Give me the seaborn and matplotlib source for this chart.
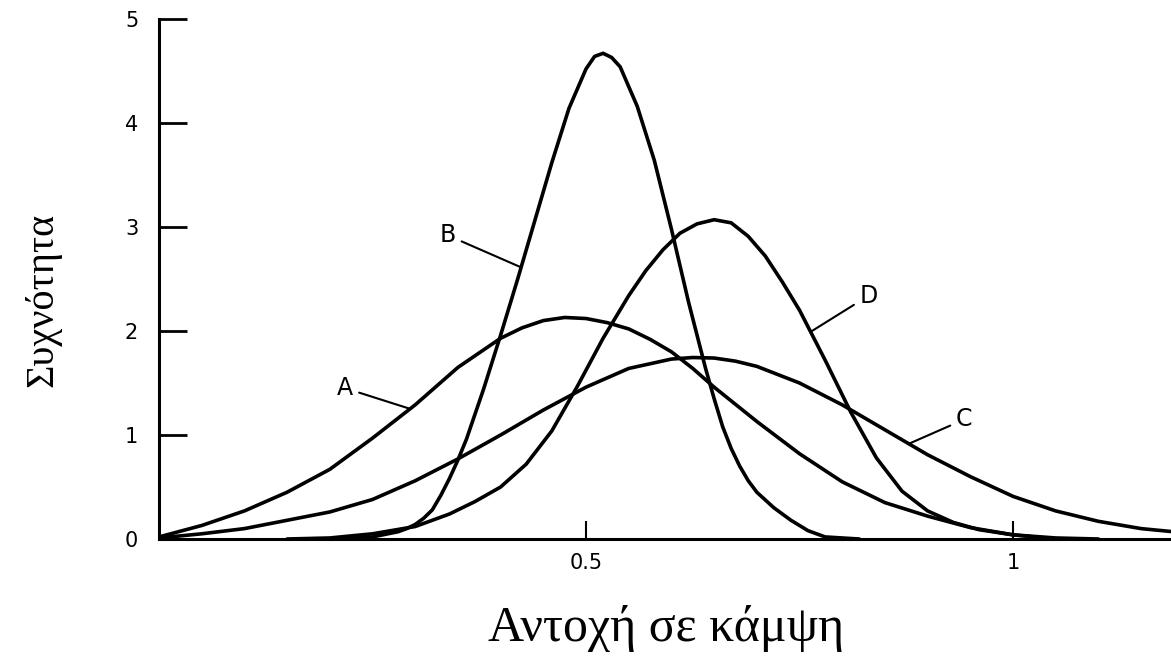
import numpy as np
import pandas as pd
import matplotlib
matplotlib.use('Agg')
import matplotlib.pyplot as plt
import seaborn as sns

# curves (strength vs frequency)
a_x = [0.00, 0.05, 0.10, 0.15, 0.20, 0.25, 0.30, 0.35, 0.375, 0.40, 0.425, 0.45,
       0.475, 0.50, 0.525, 0.55, 0.575, 0.60, 0.625, 0.65, 0.70, 0.75, 0.80,
       0.85, 0.90, 0.95, 1.00, 1.05, 1.10]
a_y = [0.02, 0.13, 0.27, 0.45, 0.67, 0.97, 1.29, 1.65, 1.79, 1.93, 2.03, 2.10,
       2.13, 2.12, 2.08, 2.02, 1.92, 1.80, 1.64, 1.46, 1.13, 0.82, 0.55,
       0.35, 0.22, 0.11, 0.04, 0.01, 0.00]

b_x = [0.18, 0.22, 0.25, 0.28, 0.29, 0.30, 0.31, 0.32, 0.33, 0.34, 0.35, 0.36,
       0.38, 0.40, 0.42, 0.44, 0.46, 0.48, 0.50, 0.51, 0.52, 0.53, 0.54, 0.56,
       0.58, 0.60, 0.62, 0.64, 0.65, 0.66, 0.67, 0.68, 0.69, 0.70, 0.72, 0.74,
       0.76, 0.78, 0.82]
b_y = [0.00, 0.00, 0.02, 0.07, 0.10, 0.14, 0.20, 0.28, 0.42, 0.58, 0.76, 0.96,
       1.44, 1.96, 2.50, 3.06, 3.62, 4.14, 4.52, 4.64, 4.67, 4.63, 4.54, 4.16,
       3.64, 2.98, 2.28, 1.64, 1.35, 1.08, 0.87, 0.70, 0.56, 0.45, 0.30, 0.18,
       0.08, 0.02, 0.00]

c_x = [0.00, 0.05, 0.10, 0.15, 0.20, 0.25, 0.30, 0.35, 0.40, 0.45, 0.50, 0.55,
       0.60, 0.625, 0.65, 0.675, 0.70, 0.75, 0.80, 0.85, 0.90, 0.95, 1.00, 1.05,
       1.10, 1.15, 1.20]
c_y = [0.01, 0.05, 0.10, 0.18, 0.26, 0.38, 0.56, 0.77, 1.00, 1.24, 1.46, 1.64,
       1.73, 1.745, 1.74, 1.71, 1.66, 1.50, 1.29, 1.05, 0.81, 0.60, 0.41, 0.27,
       0.17, 0.10, 0.06]

d_x = [0.15, 0.20, 0.25, 0.30, 0.34, 0.37, 0.40, 0.43, 0.46, 0.49, 0.52, 0.55,
       0.57, 0.59, 0.61, 0.63, 0.65, 0.67, 0.69, 0.71, 0.73, 0.75, 0.78, 0.81,
       0.84, 0.87, 0.90, 0.93, 0.96, 1.00, 1.05]
d_y = [0.00, 0.01, 0.05, 0.12, 0.24, 0.36, 0.50, 0.72, 1.04, 1.47, 1.93, 2.34,
       2.58, 2.78, 2.94, 3.03, 3.07, 3.04, 2.91, 2.72, 2.47, 2.20, 1.72, 1.22,
       0.78, 0.46, 0.27, 0.16, 0.09, 0.04, 0.00]

curve_names = ['A', 'B', 'C', 'D']
x_ticks = [0.5, 1]
x_ticklabels = ['0.5', '1']
y_ticks = [0, 1, 2, 3, 4, 5]

curves = pd.concat([
    pd.DataFrame({'x': a_x, 'y': a_y, 'curve': 'A'}),
    pd.DataFrame({'x': b_x, 'y': b_y, 'curve': 'B'}),
    pd.DataFrame({'x': c_x, 'y': c_y, 'curve': 'C'}),
    pd.DataFrame({'x': d_x, 'y': d_y, 'curve': 'D'}),
], ignore_index=True)

sns.set_style('white')
plt.rcParams['font.family'] = ['DejaVu Sans']
plt.rcParams['text.color'] = 'black'

fig = plt.figure(figsize=(11.71, 6.57), dpi=100)
ax = fig.add_axes([0.1358, 0.1796, 0.8642, 0.7915])

sns.lineplot(data=curves, x='x', y='y', hue='curve',
             palette={k: 'black' for k in curve_names},
             estimator=None, legend=False, linewidth=2.6, ax=ax)
for line in ax.get_lines():
    line.set_solid_joinstyle('round')

ax.set_xlim(0, 1.185)
ax.set_ylim(0, 5)
sns.despine(ax=ax)
for side in ['left', 'bottom']:
    ax.spines[side].set_linewidth(2.2)
    ax.spines[side].set_color('black')

ax.set_xticks(x_ticks)
ax.set_xticklabels(x_ticklabels)
ax.set_yticks(y_ticks)
ax.tick_params(axis='y', left=True, direction='in', length=20, width=2,
               pad=15, labelsize=15, colors='black')
ax.tick_params(axis='x', bottom=True, direction='in', length=13, width=1.5,
               pad=10, labelsize=15, colors='black')
ax.set_xlabel('')
ax.set_ylabel('')

# curve labels with leader lines
labels = [
    ('A', a_x, a_y, 0.294, (0.218, 1.45)),
    ('B', b_x, b_y, 0.424, (0.338, 2.92)),
    ('C', c_x, c_y, 0.878, (0.943, 1.15)),
    ('D', d_x, d_y, 0.763, (0.831, 2.34)),
]
for name, xs, ys, xp, txt in labels:
    ax.annotate(name, xy=(xp, np.interp(xp, xs, ys)), xytext=txt,
                ha='center', va='center', fontsize=17, color='black',
                arrowprops=dict(arrowstyle='-', color='black', lw=1.5,
                                shrinkA=2, shrinkB=0))

fig.text(0.569, 0.044, 'Αντοχή σε κάμψη', ha='center', va='center',
         fontsize=36, family='Liberation Serif', color='black')
fig.text(0.0367, 0.543, 'Συχνότητα', ha='center', va='center',
         rotation=90, fontsize=29, family='Liberation Serif', color='black')

fig.savefig('out.png', dpi=100)
